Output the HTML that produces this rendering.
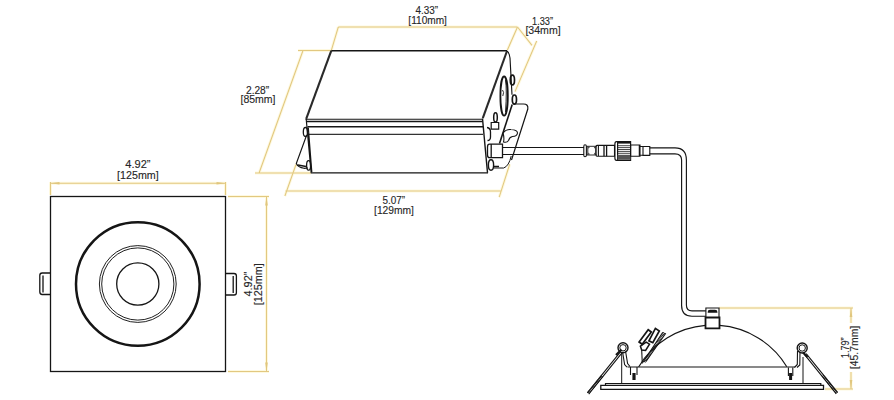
<!DOCTYPE html>
<html><head><meta charset="utf-8">
<style>
html,body{margin:0;padding:0;background:#fff;}
body{width:894px;height:400px;overflow:hidden;position:relative;}
svg{position:absolute;left:0;top:0;}
text{font-family:"Liberation Sans",sans-serif;font-size:10px;fill:#262626;stroke:#262626;stroke-width:0.12px;}
</style></head><body>
<svg width="894" height="400" viewBox="0 0 894 400">
<g fill="none" stroke="#fef9e0" stroke-width="3">
  <!-- square dims -->
  <path d="M50.5,182 V195 M225.5,182 V195 M50.5,183.3 H225.5"/>
  <path d="M228,196.5 H269 M228,371.5 H269 M266.5,196.5 V371.5"/>
  <!-- box dims -->
  <path d="M338.3,27 H517.5 M338.3,27 L331.2,50.8 M517.5,27 L507.4,50"/>
  <path d="M517.5,27 L532,45.4 M536.7,41 L515,91.6"/>
  <path d="M298,50.5 H330.5 M303,50.5 L259,173.3 M255,173 H311"/>
  <path d="M285.5,191 H500.7 M284.9,196 L296,164.5 M499.2,197.2 L509.7,164.2"/>
  <!-- fixture dims -->
  <path d="M719,308 H853 M851,308 V323 M851,372 V389 M825,389 H853"/>
</g>
<g fill="none" stroke="#e2c880" stroke-width="1.05">
  <!-- square dims -->
  <path d="M50.5,182 V195 M225.5,182 V195 M50.5,183.3 H225.5"/>
  <path d="M228,196.5 H269 M228,371.5 H269 M266.5,196.5 V371.5"/>
  <!-- box dims -->
  <path d="M338.3,27 H517.5 M338.3,27 L331.2,50.8 M517.5,27 L507.4,50"/>
  <path d="M517.5,27 L532,45.4 M536.7,41 L515,91.6"/>
  <path d="M298,50.5 H330.5 M303,50.5 L259,173.3 M255,173 H311"/>
  <path d="M285.5,191 H500.7 M284.9,196 L296,164.5 M499.2,197.2 L509.7,164.2"/>
  <!-- fixture dims -->
  <path d="M719,308 H853 M851,308 V323 M851,372 V389 M825,389 H853"/>
</g>
<g fill="#e0c67e" stroke="none">
  <path d="M50.5,183.3 l9,-1.3 v2.6 z M225.5,183.3 l-9,-1.3 v2.6 z"/>
  <path d="M266.5,196.5 l-1.3,9 h2.6 z M266.5,371.5 l-1.3,-9 h2.6 z"/>
  <path d="M851,308 l-1.3,9 h2.6 z M851,389 l-1.3,-9 h2.6 z"/>
</g>

<g fill="none" stroke="#151515" stroke-width="1.15">
  <!-- square view -->
  <rect x="50.5" y="196.5" width="175" height="175" stroke-width="1.3"/>
  <circle cx="137.8" cy="284" r="61.8" stroke-width="2.5"/>
  <circle cx="137.8" cy="284" r="38.4" stroke-width="0.95"/>
  <circle cx="137.8" cy="284" r="36.1" stroke-width="0.95"/>
  <circle cx="137.8" cy="284" r="21.1" stroke-width="1.3"/>
  <path d="M50.5,273 H42.2 Q39.8,273 39.8,275.6 V291.8 Q39.8,294.5 42.2,294.5 H50.5 M43,275.5 V292.5" stroke-width="1.3"/>
  <path d="M225.5,273.5 H234 Q236.4,273.5 236.4,276 V292.4 Q236.4,295 234,295 H225.5 M233.2,276 V293" stroke-width="1.3"/>
</g>

<g fill="none" stroke="#151515" stroke-width="1.15">
  <!-- driver box -->
  <path d="M331.3,50.7 H507" stroke-width="1.6"/>
  <path d="M331.3,50.7 L306.2,118.8" stroke-width="2.1" stroke="#2a2a2a"/>
  <path d="M507,51 L482.8,118.2" stroke-width="2.1" stroke="#2a2a2a"/>
  <path d="M305.6,119.2 H482.5" stroke-width="1.1"/>
  <path d="M307,121.4 H482.5" stroke-width="1.5"/>
  <path d="M307.5,126.7 H483" stroke-width="1.6"/>
  <path d="M308,134.4 H483" stroke-width="1.1" stroke="#333"/>
  <path d="M311.2,172.9 H488" stroke-width="1.4"/>
  <path d="M306.2,119 L311.2,173.2 M308.3,127.5 L311.8,172" stroke-width="1.2"/>
  <path d="M482.5,118.5 L487.5,172.8" stroke-width="1.4"/>
  <path d="M507,51 Q509.5,53 510,58 L512,94.8" />
  <ellipse cx="504.1" cy="96.1" rx="3.7" ry="19.6" stroke-width="1.8"/>
  <path d="M505.5,80 Q507,90 505.5,112 M502.5,90 Q504.5,92 502.8,96" stroke-width="0.9"/>
  <ellipse cx="512.4" cy="80" rx="2.1" ry="4.9" stroke-width="1.7"/>
  <ellipse cx="514.4" cy="99.6" rx="2.1" ry="4.6" stroke-width="1.7"/>
  <!-- left bracket flap -->
  <path d="M306.7,135 L296.3,163.6 Q298,167.5 304,168.3 L308,168"/>
  <path d="M298,165 L306,166.5" stroke-width="1.6"/>
  <ellipse cx="305.4" cy="132" rx="2.1" ry="4.5" stroke-width="1.3"/>
  <ellipse cx="308.6" cy="165.4" rx="2" ry="4.8" stroke-width="1.3"/>
  <!-- right bracket -->
  <path d="M513,104 H523.5 Q528.5,104 527.8,109 L511.5,160" stroke-width="1.2"/>
  <path d="M512.2,104.5 L499.5,143.5" stroke-width="1.6"/>
  <path d="M503,133 Q506,129 511,129.5 Q517.5,130 517.5,133 Q517,136.5 512.5,136.5 Q509.5,137 508.5,140.5 Q507,143 503.5,142 Q504.5,138 503,133 Z" stroke-width="1.1"/>
  <ellipse cx="495.5" cy="117.4" rx="1.8" ry="4.6" stroke-width="1.5"/>
  <path d="M491.2,122.5 H498.7 V129.2 H491.2 Z" stroke-width="1.2"/>
  <path d="M487,127.5 Q490.5,128 490.5,132 V137 Q490.5,140.5 487.5,140.5" stroke-width="1.3"/>
  <ellipse cx="491" cy="165" rx="2.6" ry="5.2" stroke-width="1.4"/>
  <path d="M494,168 H503.7 Q509,166 511.2,156" stroke-width="1"/>
  <path d="M493.5,166.5 H499" stroke-width="1.5"/>
  <!-- connector at box -->
  <path d="M489.5,144.2 H502.5 V157.7 H489.5 Q487.5,157.7 487.5,155 V147 Q487.5,144.2 489.5,144.2 Z M491.2,144.4 V157.5" stroke-width="1.3"/>
  <!-- cable -->
  <path d="M502.5,147.5 H584 M502.5,154.5 H584"/>
  <path d="M585,144.8 Q586.4,144.8 586.4,146.5 V155.2 Q586.4,156.8 585,156.8 Q583.8,156.8 583.8,155.2 V146.5 Q583.8,144.8 585,144.8 Z" stroke-width="1.1"/>
  <path d="M586.4,146.3 H596.7 M586.4,155 H596.7 M587.8,146.3 V155 M595.8,146.3 V155" stroke-width="0.9"/>
  <path d="M588,146.8 L590,146.8 L588.6,148.8 Z M588,154.5 L590,154.5 L588.6,152.5 Z M595.6,146.8 L593.6,146.8 L595,148.8 Z M595.6,154.5 L593.6,154.5 L595,152.5 Z" fill="#333" stroke="none"/>
  <path d="M597,145.4 H614.5 V156.3 H597 Q596,156.3 596,154.5 V147 Q596,145.4 597,145.4 Z M598.4,145.4 V156.3" stroke-width="1.1"/>
  <path d="M604,145.4 V156.3 M606.6,145.4 V156.3" stroke-width="1.3"/>
  <path d="M616.5,141.6 H630.6 V160.4 H616.5 Q614.9,160.4 614.9,158 V144 Q614.9,141.6 616.5,141.6 Z M617.6,142 V160" stroke-width="1.2"/>
  <path d="M617.6,142.6 H630.6" stroke-width="2"/>
  <path d="M617.6,145.7 H630.6 M617.6,147.6 H630.6 M617.6,149.5 H630.6 M617.6,151.4 H630.6 M617.6,153.3 H630.6" stroke-width="0.8"/>
  <path d="M617.6,157.3 H630.6" stroke-width="5" stroke="#555"/>
  <path d="M630.6,145 H640 V156.3 H630.6 Z M639.3,145 V156.3" stroke-width="1.1"/>
  <path d="M643,146.5 H649.8 V155.4 H643 Z M640,146.5 H643 M640,155.2 H643" stroke-width="1.1"/>
  <path d="M649.6,147.8 H675 Q686.4,147.8 686.4,160 V305 Q686.4,310.9 692,310.9 H705.9"/>
  <path d="M649.6,153.8 H675 Q681.6,153.8 681.6,160 V305.5 Q681.6,316.2 692,316.2 H705.9"/>
  <!-- fixture -->
  <path d="M705.9,308 H719 V317.5 H705.9 Z" stroke-width="1.1"/>
  <path d="M708.5,312 Q708.5,310.5 710,310.5 H715 Q716.6,310.5 716.6,312 Z" stroke-width="1.6"/>
  <path d="M705.5,317.5 H719.5 V328.4 H705.5 Z" stroke-width="1.8"/>
  <path d="M638.6,367 A86,86 0 0 1 705.5,325.4 M719.5,325.4 A86,86 0 0 1 786.8,366.8"/>
  <path d="M627.5,367 H795" stroke-width="1.2"/>
  <path d="M605.5,385.4 V383.5 H820.8 V385.4" stroke-width="1.2"/>
  <path d="M600.8,385.4 H823.5 V389.3 H600.8 Z" stroke-width="1.3"/>
  <!-- left spring -->
  <circle cx="623" cy="347.8" r="5" stroke-width="1.4"/>
  <circle cx="623" cy="347.8" r="3.2" stroke-width="1"/>
  <path d="M620.8,351.4 L587.3,392.9 M622.2,352.6 L588.7,394.1" stroke-width="1.1"/>
  <path d="M602.1,376.1 L588,393.5" stroke-width="2.8" stroke-dasharray="0.9 0.7"/>
  <path d="M616,355 L621.5,349.5" stroke-width="2.2"/>
  <path d="M622.6,352 L624.6,364.5 L627,367.2 M625.6,351.5 L627.6,363.5 L630,366.5" stroke-width="1.1"/>
  <path d="M630.5,367 V375 M637,367 V375" stroke-width="1.1"/>
  <path d="M634,373 V380" stroke-width="3.2"/>
  <path d="M621.7,352.4 V383.5" stroke-width="1"/>
  <!-- right spring -->
  <circle cx="802.2" cy="348" r="5" stroke-width="1.4"/>
  <circle cx="802.2" cy="348" r="3.2" stroke-width="1"/>
  <path d="M806.2,353.7 L837.7,392.6 M804.8,354.8 L836.3,393.8" stroke-width="1.1"/>
  <path d="M822.8,375.7 L837,393.2" stroke-width="2.8" stroke-dasharray="0.9 0.7"/>
  <path d="M803,352.5 L807.5,357" stroke-width="2.2"/>
  <path d="M797.5,351 L797.3,364.5 L794.5,367.5 M800,351.5 L799.8,365 L797,367.5" stroke-width="1.1"/>
  <path d="M788.4,367.6 V376 M792.8,367.6 V376" stroke-width="1.1"/>
  <path d="M790.6,373 V380" stroke-width="3"/>
  <path d="M803,357 V383.4" stroke-width="1"/>
  <!-- junction box -->
  <path d="M639.1,342 L648.2,329.7 L651.3,332 L642.2,344.3 Z" stroke-width="1.7"/>
  <path d="M648.9,340.8 L655.4,328.4 L659.3,331 L652.8,342.7 Z" stroke-width="1.7"/>
  <path d="M640.4,346.2 L646.2,342.2 L649.5,344.2 L645.6,350.5 L641.7,350 Z" stroke-width="1.5"/>
  <path d="M642.8,362.5 L662.8,332.2 M646,361.5 L665.8,333.2" stroke-width="1.1"/>
  <path d="M644.4,362 L664.3,332.7" stroke-width="2.4" stroke-dasharray="0.9 0.6"/>
  <path d="M641.7,350 L642.3,363.5" stroke-width="1.1"/>
</g>

<g>
<text transform="translate(125.32 167.90) scale(1.106 1)">4.92”</text>
<text transform="translate(117.10 178.90) scale(1.072 1)">[125mm]</text>
<text transform="translate(415.55 14.10) scale(0.993 1)">4.33”</text>
<text transform="translate(408.34 23.80) scale(1.012 1)">[110mm]</text>
<text transform="translate(532.01 24.70) scale(0.924 1)">1.33”</text>
<text transform="translate(525.40 34.40) scale(1.060 1)">[34mm]</text>
<text transform="translate(245.99 93.60) scale(1.018 1)">2.28”</text>
<text transform="translate(240.46 103.40) scale(1.053 1)">[85mm]</text>
<text transform="translate(382.53 203.55) scale(0.994 1)">5.07”</text>
<text transform="translate(374.03 214.00) scale(1.027 1)">[129mm]</text>
<text transform="translate(252.0 296.52) rotate(-90) scale(1.094 1)">4.92”</text>
<text transform="translate(262.0 305.21) rotate(-90) scale(1.084 1)">[125mm]</text>
<text transform="translate(848.70 357.88) rotate(-90) scale(0.901 1)">1.79”</text>
<text transform="translate(858.4 369.18) rotate(-90) scale(1.043 1)">[45.7mm]</text>
</g>
</svg>
</body></html>
